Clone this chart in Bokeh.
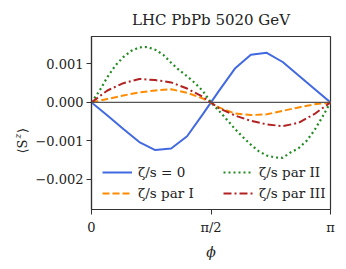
import numpy as np
from bokeh.plotting import figure
from bokeh.models import (Range1d, FixedTicker, Span, Legend, LegendItem, Label)
from bokeh.embed import file_html
from bokeh.resources import INLINE

# ---- data (phi in units of pi, <S_z> values) ----
phi16 = [0.0, 0.0667, 0.1333, 0.2, 0.2667, 0.3333, 0.4, 0.4667,
         0.5333, 0.6, 0.6667, 0.7333, 0.8, 0.8667, 0.9333, 1.0]
phi31 = [0.0, 0.0333, 0.0667, 0.1, 0.1333, 0.1667, 0.2, 0.2333, 0.2667, 0.3,
         0.3333, 0.3667, 0.4, 0.4333, 0.4667, 0.5, 0.5333, 0.5667, 0.6, 0.6333,
         0.6667, 0.7, 0.7333, 0.7667, 0.8, 0.8333, 0.8667, 0.9, 0.9333, 0.9667, 1.0]

sz_zero = [0.0, -0.00034, -0.00069, -0.00103, -0.00124, -0.00120, -0.00088, -0.00030,
           0.00030, 0.00088, 0.00124, 0.00129, 0.00105, 0.00070, 0.00035, 0.0]
sz_par1 = [0.0, 0.00009, 0.00018, 0.00026, 0.00031, 0.00034, 0.00025, 0.00010,
           -0.00013, -0.00029, -0.00033, -0.00031, -0.00022, -0.00013, -0.00005, 0.0]
sz_par3 = [0.0, 0.00031, 0.00050, 0.00061, 0.00058, 0.00052, 0.00036, 0.00014,
           -0.00015, -0.00034, -0.00048, -0.00057, -0.00062, -0.00053, -0.00030, 0.0]
sz_par2 = [0.0, 0.00030, 0.00066, 0.00096, 0.00118, 0.00134, 0.00143, 0.00144,
           0.00137, 0.00124, 0.00103, 0.00084, 0.00068, 0.00050, 0.00029, 0.0,
           -0.00022, -0.00045, -0.00069, -0.00090, -0.00110, -0.00127, -0.00138,
           -0.00143, -0.00144, -0.00130, -0.00119, -0.00100, -0.00072, -0.00037, 0.0]

labels = ["ζ/s = 0", "ζ/s par I", "ζ/s par II", "ζ/s par III"]
x_ticks = [0.0, np.pi / 2, np.pi]
x_tick_labels = ["0", "π/2", "π"]
y_ticks = [-0.002, -0.001, 0.0, 0.001]
y_tick_labels = ["−0.002", "−0.001", "0.000", "0.001"]

FONT = "DejaVu Serif"
W, H = 340, 262

p = figure(width=W, height=H, x_range=Range1d(0, np.pi),
           y_range=Range1d(-0.002784, 0.001713),
           output_backend="svg", toolbar_location=None,
           min_border_left=91, min_border_right=10, min_border_top=35,
           min_border_bottom=50, title="LHC PbPb 5020 GeV")
p.background_fill_color = "white"
p.border_fill_color = "white"
p.outline_line_color = "#333333"
p.outline_line_width = 1.2
p.grid.visible = False

p.title.text_font = FONT
p.title.text_font_size = "15px"
p.title.text_font_style = "normal"
p.title.align = "center"
p.title.text_color = "#222222"
p.title.standoff = 16

for ax in (p.xaxis[0], p.yaxis[0]):
    ax.axis_line_color = "#333333"
    ax.axis_line_width = 1.2
    ax.major_tick_line_color = "#333333"
    ax.major_tick_out = 5
    ax.major_tick_in = 0
    ax.minor_tick_line_color = None
    ax.major_label_text_font = FONT
    ax.major_label_text_font_size = "13px"
    ax.major_label_text_color = "#222222"

p.xaxis.ticker = FixedTicker(ticks=x_ticks)
p.xaxis.major_label_overrides = {t: l for t, l in zip(x_ticks, x_tick_labels)}
p.xaxis.major_label_standoff = 5
p.xaxis.axis_label = "ϕ"
p.xaxis.axis_label_text_font = FONT
p.xaxis.axis_label_text_font_size = "14px"
p.xaxis.axis_label_text_font_style = "italic"
p.xaxis.axis_label_text_color = "#222222"
p.xaxis.axis_label_standoff = 6

p.yaxis.ticker = FixedTicker(ticks=y_ticks)
p.yaxis.major_label_overrides = {t: l for t, l in zip(y_ticks, y_tick_labels)}
p.yaxis.major_label_standoff = 3

p.add_layout(Span(location=0, dimension="width", line_color="#555555", line_width=1.2))

def xs(phis):
    return [f * np.pi for f in phis]

r0 = p.line(xs(phi16), sz_zero, line_color="royalblue", line_width=2)
r1 = p.line(xs(phi16), sz_par1, line_color="darkorange", line_width=2, line_dash="7 3")
r2 = p.line(xs(phi31), sz_par2, line_color="forestgreen", line_width=2.2, line_dash="2 3")
r3 = p.line(xs(phi16), sz_par3, line_color="firebrick", line_width=2, line_dash="8 3 2 3")

legend = Legend(items=[LegendItem(label=labels[0], renderers=[r0]),
                       LegendItem(label=labels[1], renderers=[r1]),
                       LegendItem(label=labels[2], renderers=[r2]),
                       LegendItem(label=labels[3], renderers=[r3])],
                location=(3, 0), orientation="vertical", nrows=2,
                background_fill_alpha=0, border_line_alpha=0,
                label_text_font=FONT, label_text_font_size="13.5px",
                label_text_color="#222222", label_width=80,
                glyph_width=30, glyph_height=14, label_standoff=6,
                spacing=5, padding=8, margin=4)
p.add_layout(legend)

# y axis label <S_z>: subscript first (nearer the axis), then the brackets
ylab_kw = dict(x_units="screen", y_units="screen", angle=np.pi / 2,
               text_font=FONT, text_color="#222222", text_align="left",
               text_baseline="middle")
p.add_layout(Label(x=-5, y=71, text="z", text_font_size="9px",
                   text_font_style="italic", **ylab_kw), "left")
p.add_layout(Label(x=14.5, y=56, text="⟨S\u2002⟩", text_font_size="13px", **ylab_kw), "left")

open("out.html", "w").write(file_html(p, INLINE))
